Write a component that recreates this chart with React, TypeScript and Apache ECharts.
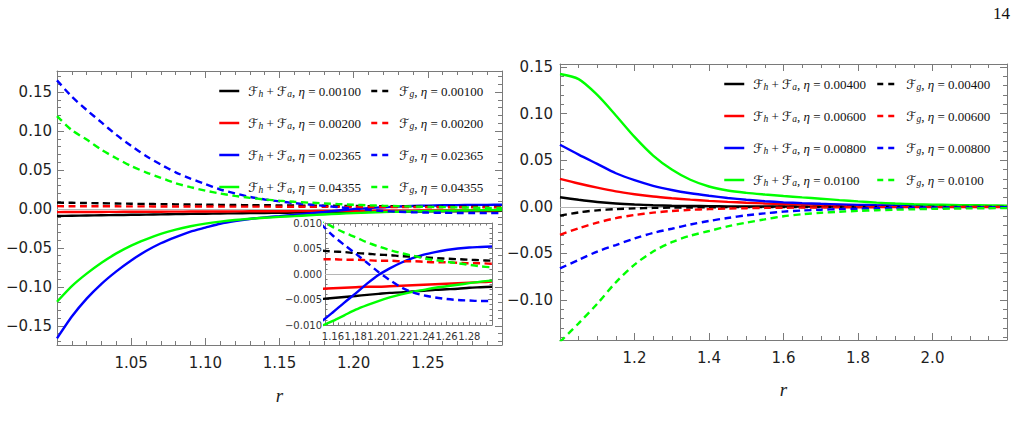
import React, { useEffect, useRef } from "react";
import * as echarts from "echarts";

// ---------- data: left panel (r from 1.00 to 1.30) ----------
const rLeft = [1.00, 1.01, 1.02, 1.03, 1.04, 1.05, 1.06, 1.07, 1.08, 1.09, 1.10, 1.11, 1.12, 1.13, 1.14, 1.15,
  1.16, 1.17, 1.18, 1.19, 1.20, 1.21, 1.22, 1.23, 1.24, 1.25, 1.26, 1.27, 1.28, 1.29, 1.30];
const etaLeft = ["0.00100", "0.00200", "0.02365", "0.04355"];

const leftFhFa1 = [-0.0090, -0.0087, -0.0084, -0.0081, -0.0078, -0.0075, -0.0072, -0.0069, -0.0066, -0.0063, -0.0061,
  -0.0058, -0.0056, -0.0053, -0.0051, -0.0049, -0.0047, -0.0045, -0.0043, -0.0041, -0.0039, -0.0037, -0.0036, -0.0034,
  -0.0033, -0.0031, -0.0030, -0.0029, -0.0027, -0.0026, -0.0025];
const leftFhFa2 = [-0.0040, -0.0039, -0.0038, -0.0038, -0.0037, -0.0036, -0.0035, -0.0035, -0.0034, -0.0033, -0.0032,
  -0.0032, -0.0031, -0.0030, -0.0030, -0.0029, -0.0028, -0.0027, -0.0026, -0.0025, -0.0025, -0.0024, -0.0023, -0.0022,
  -0.0021, -0.0020, -0.0019, -0.0018, -0.0017, -0.0016, -0.0015];
const leftFhFa3 = [-0.166, -0.138, -0.115, -0.096, -0.080, -0.066, -0.054, -0.044, -0.036, -0.029, -0.024, -0.019,
  -0.0155, -0.0128, -0.0108, -0.0093, -0.0075, -0.0056, -0.0038, -0.0019, -0.0002, 0.0011, 0.0022, 0.0031, 0.0038,
  0.0043, 0.0047, 0.0050, 0.0052, 0.0053, 0.0054];
const leftFhFa4 = [-0.119, -0.099, -0.083, -0.069, -0.057, -0.047, -0.039, -0.032, -0.0265, -0.0222, -0.0188, -0.0162,
  -0.0142, -0.0126, -0.0113, -0.0102, -0.0092, -0.0081, -0.0070, -0.0061, -0.0053, -0.0046, -0.0040, -0.0035, -0.0031,
  -0.0027, -0.0024, -0.0021, -0.0018, -0.0015, -0.0013];

const leftFg1 = [0.0082, 0.0079, 0.0076, 0.0073, 0.0070, 0.0067, 0.0064, 0.0062, 0.0059, 0.0057, 0.0055, 0.0053, 0.0051,
  0.0049, 0.0048, 0.0046, 0.0044, 0.0043, 0.0041, 0.0040, 0.0038, 0.0037, 0.0035, 0.0034, 0.0033, 0.0031, 0.0030, 0.0029,
  0.0028, 0.0027, 0.0026];
const leftFg2 = [0.0036, 0.0035, 0.0035, 0.0034, 0.0034, 0.0033, 0.0033, 0.0032, 0.0032, 0.0031, 0.0031, 0.0031, 0.0030,
  0.0030, 0.0030, 0.0029, 0.0029, 0.0028, 0.0028, 0.0027, 0.0026, 0.0026, 0.0025, 0.0025, 0.0024, 0.0023, 0.0023, 0.0022,
  0.0021, 0.0021, 0.0020];
const leftFg3 = [0.165, 0.144, 0.127, 0.111, 0.095, 0.081, 0.068, 0.057, 0.047, 0.039, 0.032, 0.025, 0.020, 0.0155,
  0.0122, 0.0097, 0.0075, 0.0057, 0.0040, 0.0022, 0.0004, -0.0012, -0.0026, -0.0036, -0.0042, -0.0046, -0.0049, -0.0051,
  -0.0052, -0.0053, -0.0053];
const leftFg4 = [0.119, 0.101, 0.089, 0.076, 0.065, 0.055, 0.047, 0.040, 0.033, 0.028, 0.0235, 0.0198, 0.0168, 0.0143,
  0.0122, 0.0105, 0.0092, 0.0081, 0.0072, 0.0062, 0.0054, 0.0047, 0.0041, 0.0036, 0.0031, 0.0027, 0.0024, 0.0021, 0.0018,
  0.0015, 0.0013];

// ---------- data: right panel (r from 1.00 to 2.20) ----------
const rRight = [1.00, 1.05, 1.10, 1.15, 1.20, 1.25, 1.30, 1.35, 1.40, 1.45, 1.50, 1.55, 1.60, 1.65, 1.70, 1.75, 1.80,
  1.85, 1.90, 1.95, 2.00, 2.05, 2.10, 2.15, 2.20];
const etaRight = ["0.00400", "0.00600", "0.00800", "0.0100"];

const rightFhFa1 = [0.0102, 0.0075, 0.0052, 0.0035, 0.0024, 0.0017, 0.0012, 0.0009, 0.0007, 0.0005, 0.0004, 0.0003,
  0.0003, 0.0002, 0.0002, 0.0002, 0.0001, 0.0001, 0.0001, 0.0001, 0.0001, 0.0001, 0.0001, 0.0001, 0.0001];
const rightFhFa2 = [0.030, 0.025, 0.0205, 0.0165, 0.0135, 0.0110, 0.0092, 0.0077, 0.0064, 0.0053, 0.0044, 0.0036, 0.0030,
  0.0025, 0.0021, 0.0018, 0.0015, 0.0013, 0.0011, 0.0010, 0.0009, 0.0008, 0.0007, 0.0006, 0.0005];
const rightFhFa3 = [0.0665, 0.056, 0.046, 0.036, 0.0285, 0.0225, 0.0180, 0.0145, 0.0118, 0.0095, 0.0076, 0.0060, 0.0048,
  0.0039, 0.0032, 0.0026, 0.0021, 0.0017, 0.0014, 0.0012, 0.0010, 0.0009, 0.0008, 0.0007, 0.0006];
const rightFhFa4 = [0.1425, 0.137, 0.120, 0.098, 0.075, 0.055, 0.040, 0.029, 0.0218, 0.0175, 0.0150, 0.0132, 0.0116, 0.0101,
  0.0087, 0.0072, 0.0058, 0.0045, 0.0035, 0.0028, 0.0023, 0.0020, 0.0017, 0.0015, 0.0013];

const rightFg1 = [-0.0095, -0.0060, -0.0038, -0.0025, -0.0017, -0.0012, -0.0009, -0.0007, -0.0005, -0.0004, -0.0003,
  -0.0003, -0.0002, -0.0002, -0.0002, -0.0001, -0.0001, -0.0001, -0.0001, -0.0001, -0.0001, -0.0001, -0.0001, -0.0001,
  -0.0001];
const rightFg2 = [-0.030, -0.023, -0.0170, -0.0122, -0.0088, -0.0063, -0.0045, -0.0033, -0.0025, -0.0019, -0.0015, -0.0012,
  -0.0010, -0.0008, -0.0007, -0.0006, -0.0005, -0.0004, -0.0004, -0.0003, -0.0003, -0.0003, -0.0002, -0.0002, -0.0002];
const rightFg3 = [-0.066, -0.057, -0.048, -0.041, -0.034, -0.028, -0.0235, -0.019, -0.0152, -0.0120, -0.0092, -0.0070,
  -0.0052, -0.0040, -0.0031, -0.0025, -0.0020, -0.0016, -0.0013, -0.0011, -0.0009, -0.0008, -0.0007, -0.0006, -0.0005];
const rightFg4 = [-0.145, -0.125, -0.104, -0.081, -0.062, -0.048, -0.038, -0.031, -0.026, -0.021, -0.017, -0.0135, -0.0102,
  -0.0080, -0.0064, -0.0053, -0.0044, -0.0037, -0.0031, -0.0026, -0.0022, -0.0019, -0.0017, -0.0015, -0.0014];

// ---------- tick labels ----------
const leftXTicks = [1.05, 1.10, 1.15, 1.20, 1.25];
const leftYTicks = [-0.15, -0.10, -0.05, 0, 0.05, 0.10, 0.15];
const rightXTicks = [1.2, 1.4, 1.6, 1.8, 2.0];
const rightYTicks = [-0.10, -0.05, 0, 0.05, 0.10, 0.15];
const insetXTicks = [1.16, 1.18, 1.20, 1.22, 1.24, 1.26, 1.28];
const insetYTicks = [-0.010, -0.005, 0, 0.005, 0.010];

const COLORS = ["#000000", "#ff0000", "#0000ff", "#00ff00"];
const FRAME = "#7a7a7a";
const LABEL = "#1e1e1e";

function steps(from: number, to: number, step: number, digits: number) {
  const out: number[] = [];
  const n = Math.round((to - from) / step);
  for (let i = 0; i <= n; i++) out.push(+(from + i * step).toFixed(digits));
  return out;
}

function fmt(v: number, d: number) {
  const s = Math.abs(v).toFixed(d);
  return (v < -1e-12 ? "\u2212" : "") + s;
}

function axisSet(
  dim: "x" | "y",
  gridIndex: number,
  min: number,
  max: number,
  majors: number[],
  minors: number[],
  o: { labelDigits: number; fontSize: number; margin: number; majLen: number; minLen: number; z: number; color: string; name?: string; nameGap?: number }
) {
  const primaryPos = dim === "x" ? "bottom" : "left";
  const oppPos = dim === "x" ? "top" : "right";
  const base = {
    type: "value",
    gridIndex,
    min,
    max,
    z: o.z,
    splitLine: { show: false },
    silent: true,
  };
  const line = { show: true, onZero: false, lineStyle: { color: FRAME, width: 1 } };
  const noLine = { show: false, onZero: false };
  const tick = (vals: number[], len: number) => ({
    show: true,
    inside: true,
    length: len,
    customValues: vals,
    lineStyle: { color: FRAME, width: 1 },
  });
  const primary: any = {
    ...base,
    position: primaryPos,
    axisLine: line,
    axisTick: tick(majors, o.majLen),
    axisLabel: {
      show: true,
      customValues: majors,
      formatter: (v: number) => fmt(v, o.labelDigits),
      color: o.color,
      fontSize: o.fontSize,
      fontFamily: "DejaVu Sans",
      margin: o.margin,
    },
  };
  if (o.name) {
    primary.name = o.name;
    primary.nameLocation = "middle";
    primary.nameGap = o.nameGap;
    primary.nameTextStyle = { fontFamily: "Liberation Serif", fontStyle: "italic", fontSize: 19, color: "#222" };
  }
  const mk = (pos: string, vals: number[], len: number, withLine: boolean) => ({
    ...base,
    position: pos,
    axisLine: withLine ? line : noLine,
    axisTick: tick(vals, len),
    axisLabel: { show: false },
  });
  return [primary, mk(primaryPos, minors, o.minLen, false), mk(oppPos, majors, o.majLen, true), mk(oppPos, minors, o.minLen, false)];
}

function fhName(eta: string) {
  return "\u2131h + \u2131a, \u03b7 = " + eta;
}
function fgName(eta: string) {
  return "\u2131g, \u03b7 = " + eta;
}

function legendFormatter(name: string) {
  const eta = name.split("= ")[1];
  if (name.indexOf("\u2131h") === 0) {
    return `{f0|\u2131}{s|h}{t| + }{f|\u2131}{s|a}{t|, }{e|\u03b7}{t| = ${eta}}`;
  }
  return `{f0|\u2131}{s|g}{t|, }{e|\u03b7}{t| = ${eta}}`;
}

const LF = 13;
const legendText = (pad: number) => ({
  color: "#111",
  fontSize: LF,
  lineHeight: 16,
  rich: {
    f0: { fontFamily: "DejaVu Sans", fontSize: LF, lineHeight: 16, padding: [0, 0, 0, pad], color: "#111" },
    f: { fontFamily: "DejaVu Sans", fontSize: LF, lineHeight: 16, color: "#111" },
    s: { fontFamily: "Liberation Serif", fontStyle: "italic", fontSize: 9.5, lineHeight: 9, verticalAlign: "bottom", color: "#111" },
    t: { fontFamily: "Liberation Serif", fontSize: LF, lineHeight: 16, color: "#111" },
    e: { fontFamily: "Liberation Serif", fontStyle: "italic", fontSize: LF, lineHeight: 16, color: "#111" },
  },
});

function buildOption() {
  const xAxis: any[] = [];
  const yAxis: any[] = [];
  const common = { color: LABEL };
  // grid 0: left main
  xAxis.push(
    ...axisSet("x", 0, 1.0, 1.3, leftXTicks, steps(1.01, 1.29, 0.01, 2), {
      labelDigits: 2, fontSize: 15, margin: 10, majLen: 7, minLen: 4, z: 0, name: "r", nameGap: 41, ...common,
    })
  );
  yAxis.push(
    ...axisSet("y", 0, -0.1745, 0.177, leftYTicks, steps(-0.17, 0.17, 0.01, 2), {
      labelDigits: 2, fontSize: 15, margin: 5, majLen: 7, minLen: 4, z: 0, ...common,
    })
  );
  // grid 1: right main
  xAxis.push(
    ...axisSet("x", 1, 1.0, 2.2, rightXTicks, steps(1.05, 2.15, 0.05, 2), {
      labelDigits: 1, fontSize: 15, margin: 10, majLen: 7, minLen: 4, z: 0, name: "r", nameGap: 40, ...common,
    })
  );
  yAxis.push(
    ...axisSet("y", 1, -0.1429, 0.1532, rightYTicks, steps(-0.14, 0.15, 0.01, 2), {
      labelDigits: 2, fontSize: 15, margin: 7, majLen: 7, minLen: 4, z: 0, ...common,
    })
  );
  // grid 2: inset
  xAxis.push(
    ...axisSet("x", 2, 1.153, 1.3, insetXTicks, steps(1.155, 1.295, 0.005, 3), {
      labelDigits: 2, fontSize: 10, margin: 6, majLen: 4, minLen: 2.5, z: 11, color: "#333",
    })
  );
  yAxis.push(
    ...axisSet("y", 2, -0.01, 0.01, insetYTicks, steps(-0.009, 0.009, 0.001, 3), {
      labelDigits: 3, fontSize: 10, margin: 3, majLen: 4, minLen: 2.5, z: 11, color: "#333",
    })
  );

  const zeroLine = (z: number) => ({
    silent: true,
    symbol: "none",
    label: { show: false },
    lineStyle: { color: "#b5b5b5", width: 1, type: "solid" },
    data: [{ yAxis: 0 }],
    z,
  });

  const series: any[] = [];
  const pairs = (xs: number[], ys: number[]) => xs.map((x, i) => [x, ys[i]]);

  const leftSolid = [leftFhFa1, leftFhFa2, leftFhFa3, leftFhFa4];
  const leftDash = [leftFg1, leftFg2, leftFg3, leftFg4];
  const rightSolid = [rightFhFa1, rightFhFa2, rightFhFa3, rightFhFa4];
  const rightDash = [rightFg1, rightFg2, rightFg3, rightFg4];

  const addLine = (name: string, xs: number[], ys: number[], color: string, dashed: boolean, axis: number, z: number, withZero: boolean, smooth: number) => {
    const s: any = {
      type: "line",
      name,
      xAxisIndex: axis,
      yAxisIndex: axis,
      data: pairs(xs, ys),
      symbol: "none",
      showSymbol: false,
      smooth,
      clip: true,
      z,
      lineStyle: { color, width: 2.4, type: dashed ? [7, 4.5] : "solid" },
      itemStyle: { color },
      emphasis: { disabled: true },
    };
    if (withZero) s.markLine = zeroLine(z - 1);
    series.push(s);
  };

  for (let i = 0; i < 4; i++) addLine(fhName(etaLeft[i]), rLeft, leftSolid[i], COLORS[i], false, 0, 3, i === 0, 0.2);
  for (let i = 0; i < 4; i++) addLine(fgName(etaLeft[i]), rLeft, leftDash[i], COLORS[i], true, 0, 3, false, 0.2);
  for (let i = 0; i < 4; i++) addLine(fhName(etaRight[i]), rRight, rightSolid[i], COLORS[i], false, 4, 3, i === 0, 0.3);
  for (let i = 0; i < 4; i++) addLine(fgName(etaRight[i]), rRight, rightDash[i], COLORS[i], true, 4, 3, false, 0.3);
  for (let i = 0; i < 4; i++) addLine(fhName(etaLeft[i]), rLeft, leftSolid[i], COLORS[i], false, 8, 13, i === 0, 0.3);
  for (let i = 0; i < 4; i++) addLine(fgName(etaLeft[i]), rLeft, leftDash[i], COLORS[i], true, 8, 13, false, 0.3);

  const legendBase = {
    orient: "vertical",
    itemHeight: 14,
    itemGap: 16,
    selectedMode: false,
    itemStyle: { opacity: 0 },
    formatter: legendFormatter,
    padding: 0,
  };

  const legend = [
    { ...legendBase, data: etaLeft.map(fhName), left: 218, top: 83, itemWidth: 20, lineStyle: { width: 2.5 }, textStyle: legendText(4) },
    { ...legendBase, data: etaLeft.map(fgName), left: 370, top: 83, itemWidth: 17, lineStyle: { width: 2.5, type: [6, 5] }, textStyle: legendText(6) },
    { ...legendBase, data: etaRight.map(fhName), left: 723, top: 76, itemWidth: 20, lineStyle: { width: 2.5 }, textStyle: legendText(4) },
    { ...legendBase, data: etaRight.map(fgName), left: 876, top: 76, itemWidth: 17, lineStyle: { width: 2.5, type: [6, 5] }, textStyle: legendText(7) },
  ];

  return {
    animation: false,
    backgroundColor: "#ffffff",
    grid: [
      { left: 57, top: 71, width: 445, height: 274, containLabel: false },
      { left: 560, top: 64, width: 447, height: 276, containLabel: false },
      { left: 325, top: 223, width: 167, height: 102, show: true, backgroundColor: "#ffffff", borderWidth: 0, z: 10 },
    ],
    xAxis,
    yAxis,
    legend,
    series,
    graphic: [
      {
        type: "text",
        left: 993,
        top: 5,
        style: { text: "14", fontFamily: "Liberation Serif", fontSize: 17, fill: "#111" },
      },
    ],
  };
}

export default function App() {
  const ref = useRef<HTMLDivElement>(null);
  useEffect(() => {
    const chart = echarts.init(ref.current!, null, { renderer: "svg" });
    chart.setOption(buildOption() as any);
    return () => chart.dispose();
  }, []);
  return (
    <div
      ref={ref}
      style={{ position: "fixed", left: 0, top: 0, width: 1020, height: 429, background: "#fff" }}
    />
  );
}
